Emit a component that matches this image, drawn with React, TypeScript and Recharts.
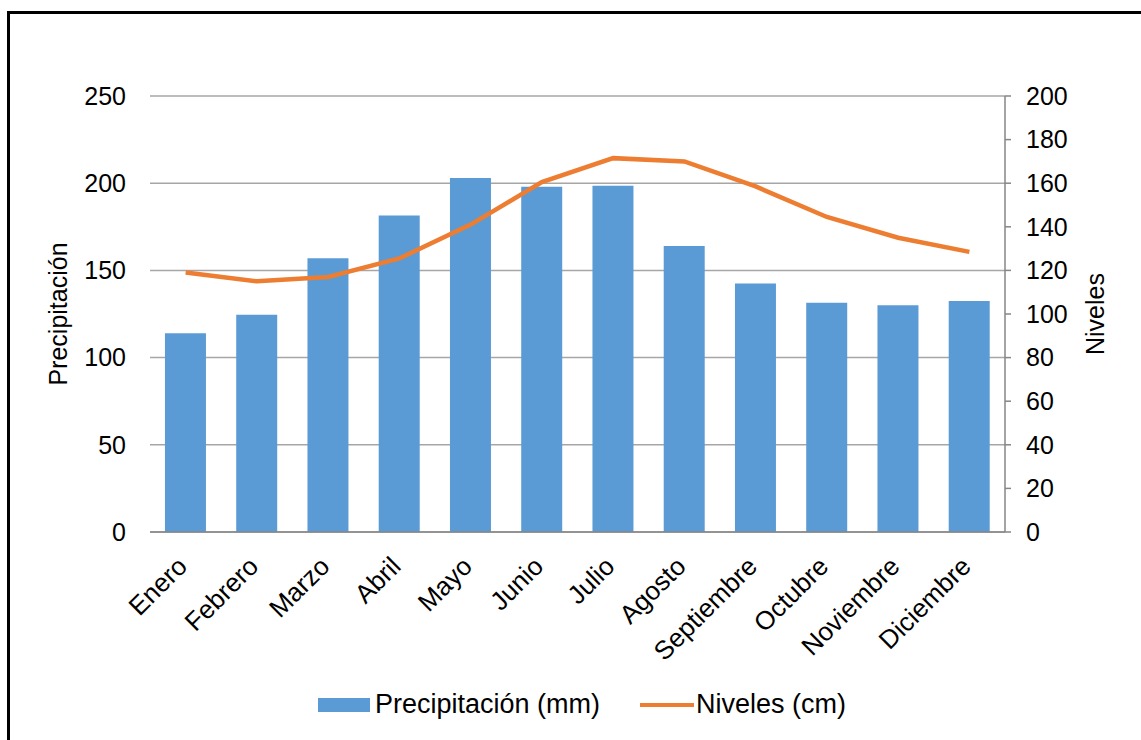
import { ComposedChart, Bar, Line, XAxis, YAxis, CartesianGrid, Label } from 'recharts'

const months = ['Enero', 'Febrero', 'Marzo', 'Abril', 'Mayo', 'Junio', 'Julio', 'Agosto', 'Septiembre', 'Octubre', 'Noviembre', 'Diciembre']
const precipitacion = [114, 124.5, 157, 181.5, 203, 198, 198.5, 164, 142.5, 131.5, 130, 132.5]
const niveles = [119, 115, 117, 125.5, 141, 160.5, 171.5, 170, 158.5, 144.5, 135, 128.5]
const leftTicks = [0, 50, 100, 150, 200, 250]
const rightTicks = [0, 20, 40, 60, 80, 100, 120, 140, 160, 180, 200]

const data = months.map((m, i) => ({ mes: m, precip: precipitacion[i], nivel: niveles[i] }))

const FONT = '"Liberation Sans", Arial, sans-serif'
const BAR = '#5B9BD5'
const LINE = '#ED7D31'
const AXIS = '#868686'

function MonthTick({ x, y, payload }: any) {
  const px = x + 3
  const py = y + 28
  return (
    <text
      x={px}
      y={py}
      transform={`rotate(-45 ${px} ${py})`}
      textAnchor="end"
      fontSize={26}
      fontFamily={FONT}
      fill="#000"
    >
      {payload.value}
    </text>
  )
}

export default function App() {
  return (
    <div style={{ position: 'fixed', left: 0, top: 0, width: 1141, height: 740, background: '#fff', overflow: 'hidden' }}>
      {/* marco */}
      <div style={{ position: 'absolute', left: 7, top: 11, width: 1160, height: 760, border: '3px solid #000' }} />

      <div style={{ position: 'absolute', left: 0, top: 0 }}>
        <ComposedChart
          width={1141}
          height={740}
          data={data}
          margin={{ top: 96, right: 0, left: 0, bottom: 0 }}
          barCategoryGap="21%"
        >
          <CartesianGrid vertical={false} stroke="#A6A6A6" strokeWidth={1.5} yAxisId="left" />
          <XAxis
            dataKey="mes"
            height={208}
            stroke={AXIS}
            strokeWidth={1.5}
            tickLine={false}
            tick={<MonthTick />}
            interval={0}
          />
          <YAxis
            yAxisId="left"
            orientation="left"
            width={150}
            domain={[0, 250]}
            ticks={leftTicks}
            axisLine={false}
            tickLine={false}
            tickSize={0}
            tickMargin={24}
            tick={{ fontSize: 25, fontFamily: FONT, fill: '#000' }}
          >
            <Label
              value="Precipitación"
              angle={-90}
              position="insideLeft"
              offset={58}
              style={{ fontSize: 25, fontFamily: FONT, fill: '#000', textAnchor: 'middle' }}
            />
          </YAxis>
          <YAxis
            yAxisId="right"
            orientation="right"
            width={136}
            domain={[0, 200]}
            ticks={rightTicks}
            stroke={AXIS}
            strokeWidth={1.5}
            tickSize={6}
            tickMargin={15}
            tick={{ fontSize: 25, fontFamily: FONT, fill: '#000' }}
          >
            <Label
              value="Niveles"
              angle={-90}
              position="insideRight"
              offset={46}
              style={{ fontSize: 25, fontFamily: FONT, fill: '#000', textAnchor: 'middle' }}
            />
          </YAxis>
          <Bar yAxisId="left" dataKey="precip" fill={BAR} isAnimationActive={false} />
          <Line
            yAxisId="right"
            dataKey="nivel"
            type="linear"
            stroke={LINE}
            strokeWidth={4.5}
            dot={false}
            isAnimationActive={false}
          />
        </ComposedChart>
      </div>

      {/* leyenda */}
      <div style={{ position: 'absolute', left: 318, top: 689, display: 'flex', alignItems: 'center', fontFamily: FONT, fontSize: 27, color: '#000' }}>
        <span style={{ display: 'inline-block', width: 52, height: 14, background: BAR, marginRight: 5 }} />
        <span>Precipitación (mm)</span>
        <span style={{ display: 'inline-block', width: 54, height: 4, background: LINE, marginLeft: 40, marginRight: 2 }} />
        <span>Niveles (cm)</span>
      </div>
    </div>
  )
}
